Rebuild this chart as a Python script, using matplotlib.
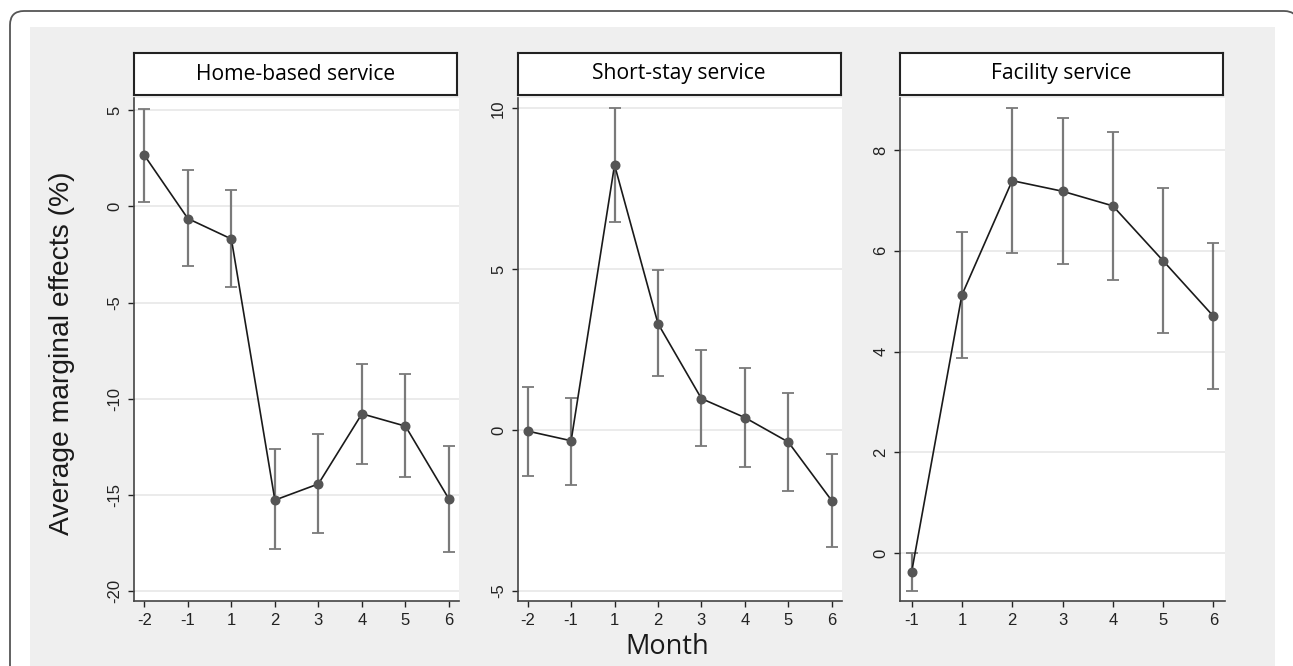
import matplotlib.pyplot as plt
from matplotlib.patches import Rectangle, FancyBboxPatch

# Data
months_a = ['-2', '-1', '1', '2', '3', '4', '5', '6']
months_c = ['-1', '1', '2', '3', '4', '5', '6']

home_est = [2.65, -0.64, -1.70, -15.26, -14.42, -10.78, -11.42, -15.21]
home_lo = [0.21, -3.12, -4.19, -17.82, -16.99, -13.36, -14.05, -17.95]
home_hi = [5.07, 1.87, 0.83, -12.62, -11.82, -8.17, -8.72, -12.46]

short_est = [-0.03, -0.33, 8.24, 3.31, 0.98, 0.39, -0.37, -2.19]
short_lo = [-1.43, -1.71, 6.47, 1.69, -0.50, -1.14, -1.88, -3.62]
short_hi = [1.35, 1.01, 10.01, 4.97, 2.48, 1.93, 1.16, -0.75]

fac_est = [-0.38, 5.12, 7.39, 7.18, 6.89, 5.80, 4.70]
fac_lo = [-0.76, 3.88, 5.95, 5.73, 5.42, 4.36, 3.25]
fac_hi = [0.0, 6.38, 8.84, 8.64, 8.36, 7.25, 6.16]

titles = ['Home-based service', 'Short-stay service', 'Facility service']

W, H = 1293, 666
fig = plt.figure(figsize=(W / 100, H / 100), dpi=100)
fig.patch.set_facecolor('white')

# outer rounded frame (right side runs off the image) and grey panel
fig.add_artist(FancyBboxPatch((10, -30), 1288, 685, boxstyle='round,pad=0,rounding_size=14',
                              transform=None, facecolor='white', edgecolor='#555555', lw=1.3,
                              zorder=-3, clip_on=False))
fig.add_artist(Rectangle((30, 0), 1245, H - 27, transform=None,
                         facecolor='#efefef', edgecolor='none', zorder=-2))


def px_axes(x0, x1, y0, y1):
    return [x0 / W, 1 - y1 / H, (x1 - x0) / W, (y1 - y0) / H]


panels = [
    (months_a, home_est, home_lo, home_hi, (134.3, 459), (-20.5, 5.62), [-20, -15, -10, -5, 0, 5]),
    (months_a, short_est, short_lo, short_hi, (517.7, 841.7), (-5.31, 10.32), [-5, 0, 5, 10]),
    (months_c, fac_est, fac_lo, fac_hi, (900, 1225), (-0.95, 9.03), [0, 2, 4, 6, 8]),
]

for (cats, est, lo, hi, (x0, x1), ylim, yticks), title in zip(panels, titles):
    ax = fig.add_axes(px_axes(x0, x1, 98, 601))
    x = list(range(len(cats)))
    yerr = [[e - l for e, l in zip(est, lo)], [h - e for e, h in zip(est, hi)]]
    ax.errorbar(x, est, yerr=yerr, fmt='none', ecolor='#7a7a7a', elinewidth=1.6,
                capsize=4, capthick=1.3, zorder=2)
    ax.plot(x, est, color='#1a1a1a', lw=1.2, zorder=3)
    ax.plot(x, est, 'o', color='#555555', ms=6.2, zorder=4)
    ax.set_xlim(-0.23, len(cats) - 1 + 0.23)
    ax.set_ylim(*ylim)
    ax.set_xticks(x)
    ax.set_xticklabels(cats, fontsize=12, family='Liberation Sans')
    ax.set_yticks(yticks)
    ax.set_yticklabels([str(t) for t in yticks], fontsize=12, family='Liberation Sans',
                       rotation=90, va='center')
    ax.grid(axis='y', color='#e8e8e8', lw=1.2)
    ax.set_axisbelow(True)
    for s in ['top', 'right']:
        ax.spines[s].set_visible(False)
    for s in ['left', 'bottom']:
        ax.spines[s].set_color('#444444')
        ax.spines[s].set_linewidth(1.2)
    ax.tick_params(colors='#222222', length=4.5, width=1, pad=4)

    # title box
    tb = fig.add_axes(px_axes(x0, x0 + 323, 53, 95))
    tb.set_xticks([])
    tb.set_yticks([])
    for s in tb.spines.values():
        s.set_color('#222222')
        s.set_linewidth(1.5)
    tb.text(0.5, 0.5, title, ha='center', va='center', fontsize=15.2, family='Open Sans',
            transform=tb.transAxes)

fig.text(62 / W, 1 - 353 / H, 'Average marginal effects (%)', rotation=90, ha='center',
         va='center', fontsize=20.3, family='Liberation Sans', color='#1a1a1a')
fig.text(667 / W, 1 - 647 / H, 'Month', ha='center', va='center', fontsize=19.5,
         family='Open Sans', color='#1a1a1a')

fig.savefig('out.png', dpi=100)
